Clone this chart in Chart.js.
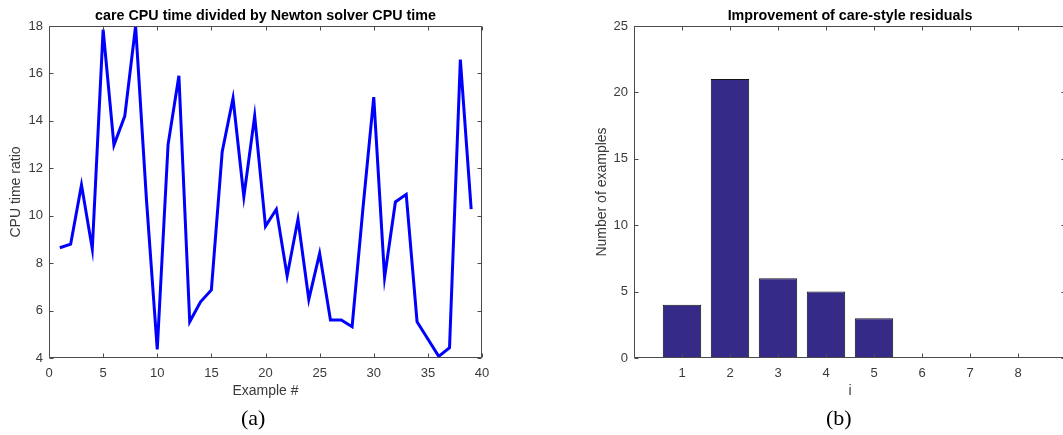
<!DOCTYPE html>
<html>
<head>
<meta charset="utf-8">
<script src="https://cdn.jsdelivr.net/npm/chart.js@4/dist/chart.umd.min.js"></script>
<style>
  html, body { margin: 0; padding: 0; background: #fff; overflow: hidden; }
  body { width: 1063px; height: 435px; position: relative; }
  canvas { position: absolute; top: 0; }
  #chart-a { left: 0; }
  #chart-b { left: 560px; }
  .cap { position: absolute; top: 405px; font: 22px 'Liberation Serif', 'Times New Roman', serif; color: #000; }
</style>
</head>
<body>
<canvas id="chart-a" width="505" height="435"></canvas>
<canvas id="chart-b" width="514" height="435"></canvas>
<div class="cap" style="left:241px">(a)</div>
<div class="cap" style="left:826px">(b)</div>

<script>
/* two MATLAB-style panels: line (a) + histogram bars (b) */

// ── data ─────────────────────────────────────────
const exampleNo = [1, 2, 3, 4, 5, 6, 7, 8, 9, 10, 11, 12, 13, 14, 15, 16, 17, 18, 19, 20,
                   21, 22, 23, 24, 25, 26, 27, 28, 29, 30, 31, 32, 33, 34, 35, 36, 37, 38, 39];
const cpuRatio  = [8.65, 8.8, 11.3, 8.6, 17.85, 12.98, 14.2, 18.0, 10.7, 4.36,
                   13.0, 15.9, 5.53, 6.37, 6.87, 12.7, 14.95, 10.8, 14.2, 9.55,
                   10.27, 7.46, 9.85, 6.47, 8.41, 5.6, 5.6, 5.32, 10.3, 15.0,
                   7.4, 10.58, 10.9, 5.53, 4.8, 4.07, 4.43, 16.58, 10.28];

const residIdx  = [1, 2, 3, 4, 5, 6, 7, 8];
const nExamples = [4, 21, 6, 5, 3, 0, 0, 0];

const AXIS  = '#4a4a4a';
const TICKC = '#3a3a3a';

Chart.defaults.font.family = "'Liberation Sans', Arial, sans-serif";
Chart.defaults.color = TICKC;

// box round the plot + inward ticks, like matlab axes
const matlabBox = {
  id: 'matlabBox',
  afterDatasetsDraw(chart) {
    const { ctx, chartArea: a, scales: { x, y } } = chart;
    const t = 4;
    const L = Math.round(a.left) + 0.5, R = Math.round(a.right) - 0.5;
    const T = Math.round(a.top) + 0.5,  B = Math.round(a.bottom) - 0.5;
    ctx.save();
    ctx.strokeStyle = AXIS;
    ctx.lineWidth = 1;
    ctx.beginPath();
    ctx.rect(L, T, R - L, B - T);
    x.ticks.forEach(tk => {
      const px = Math.round(x.getPixelForValue(tk.value)) + 0.5;
      ctx.moveTo(px, B); ctx.lineTo(px, B - t);
      ctx.moveTo(px, T); ctx.lineTo(px, T + t);
    });
    y.ticks.forEach(tk => {
      const py = Math.round(y.getPixelForValue(tk.value)) + 0.5;
      ctx.moveTo(L, py); ctx.lineTo(L + t, py);
      ctx.moveTo(R, py); ctx.lineTo(R - t, py);
    });
    ctx.stroke();
    ctx.restore();
  },
};

const titleOpts = text => ({
  display: true, text, fullSize: false, color: '#000',
  font: { size: 14.3, weight: 'bold' },
  padding: { top: 7, bottom: 1.8 },
});

const axisTitle = (text, pad) => ({
  display: true, text, color: TICKC, font: { size: 14 }, padding: pad,
});

// ── (a) line ─────────────────────────────────────
new Chart(document.getElementById('chart-a'), {
  type: 'line',
  data: {
    datasets: [{
      data: exampleNo.map((x, i) => ({ x, y: cpuRatio[i] })),
      borderColor: '#0000ff',
      borderWidth: 3,
      pointRadius: 0,
      tension: 0,
      fill: false,
    }],
  },
  options: {
    responsive: false,
    animation: false,
    layout: { padding: { top: 0, right: 23, bottom: 32, left: 0 } },
    plugins: { legend: { display: false }, tooltip: { enabled: false }, title: titleOpts('care CPU time divided by Newton solver CPU time') },
    scales: {
      x: {
        type: 'linear', min: 0, max: 40,
        grid: { display: false, drawTicks: false },
        border: { display: false },
        ticks: { stepSize: 5, padding: 8, font: { size: 13 }, color: TICKC, maxRotation: 0 },
        title: axisTitle('Example #', { top: 0, bottom: 3 }),
        afterFit: s => { s.height = 45; },
      },
      y: {
        min: 4, max: 18,
        grid: { display: false, drawTicks: false },
        border: { display: false },
        ticks: { stepSize: 2, padding: 6, font: { size: 13 }, color: TICKC },
        title: axisTitle('CPU time ratio', { top: 8, bottom: 0 }),
        afterFit: s => { s.width = 49; },
      },
    },
  },
  plugins: [matlabBox],
});

// ── (b) bars ─────────────────────────────────────
new Chart(document.getElementById('chart-b'), {
  type: 'bar',
  data: {
    datasets: [{
      data: residIdx.map((x, i) => ({ x, y: nExamples[i] })),
      backgroundColor: '#352a87',
      borderColor: '#141414',
      borderWidth: 1,
      borderSkipped: false,
      barPercentage: 0.8,
      categoryPercentage: 1,
    }],
  },
  options: {
    responsive: false,
    animation: false,
    layout: { padding: { top: 0, right: 0, bottom: 32, left: 0 } },
    plugins: { legend: { display: false }, tooltip: { enabled: false }, title: titleOpts('Improvement of care-style residuals') },
    scales: {
      x: {
        type: 'linear', min: 0, max: 9, offset: false,
        grid: { display: false, drawTicks: false },
        border: { display: false },
        ticks: {
          stepSize: 1, padding: 8, font: { size: 13 }, color: TICKC, maxRotation: 0,
          callback: v => (v >= 1 && v <= 8 ? v : ''),
        },
        title: axisTitle('i', { top: 0, bottom: 3 }),
        afterFit: s => { s.height = 45; },
      },
      y: {
        min: 0, max: 25,
        grid: { display: false, drawTicks: false },
        border: { display: false },
        ticks: { stepSize: 5, padding: 6, font: { size: 13 }, color: TICKC },
        title: axisTitle('Number of examples', { top: 34, bottom: 0 }),
        afterFit: s => { s.width = 74; },
      },
    },
  },
  plugins: [matlabBox],
});
</script>
</body>
</html>
